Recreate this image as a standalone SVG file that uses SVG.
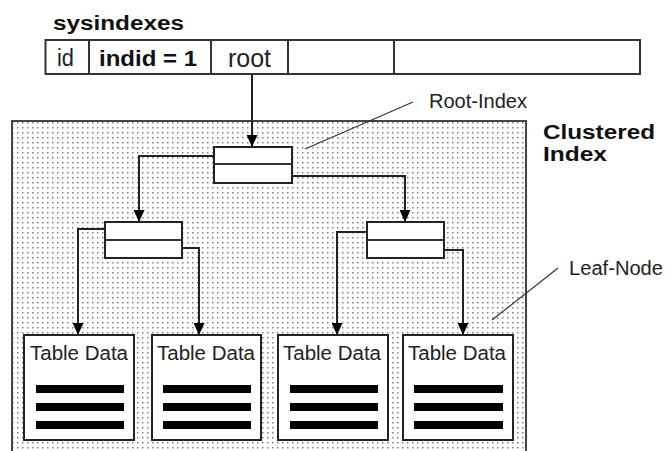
<svg xmlns="http://www.w3.org/2000/svg" width="666" height="451" viewBox="0 0 666 451">
  <defs>
    <pattern id="dots" x="0" y="0" width="5" height="5" patternUnits="userSpaceOnUse">
      <rect width="5" height="5" fill="#ffffff"/>
      <rect x="2" y="2" width="1.5" height="1.5" fill="#808080"/>
    </pattern>
    <marker id="arrow" viewBox="0 0 12 11" refX="12" refY="5.5" markerWidth="12" markerHeight="11" markerUnits="userSpaceOnUse" orient="auto">
      <path d="M0,0 L12,5.5 L0,11 Z" fill="#000"/>
    </marker>
  </defs>
  <style>
    .frame { fill: url(#dots); stroke: #444; stroke-width: 2; }
    .cell { fill: #fff; stroke: #333; stroke-width: 2; }
    .node { fill: #fff; stroke: #222; stroke-width: 2; }
    .sep { stroke: #333; stroke-width: 2; fill: none; }
    .link { fill: none; stroke: #222; stroke-width: 2; marker-end: url(#arrow); }
    .lead { fill: none; stroke: #333; stroke-width: 1.2; }
    .txt { font-family: "Liberation Sans", Arial, sans-serif; fill: #222; }
    .bold { font-family: "Liberation Sans", Arial, sans-serif; font-weight: bold; fill: #111; }
    .bar { fill: #000; }
  </style>

  <!-- sysindexes row -->
  <g id="sysindexes">
    <text class="bold" x="53" y="30" font-size="20" textLength="131" lengthAdjust="spacingAndGlyphs">sysindexes</text>
    <rect class="cell" x="45.5" y="40" width="594.5" height="34"/>
    <path class="sep" d="M89,40 V74 M211,40 V74 M288,40 V74 M394,40 V74"/>
    <text class="txt" transform="translate(57,66) scale(1,1.1)" font-size="21" textLength="17" lengthAdjust="spacingAndGlyphs">id</text>
    <text class="bold" x="99" y="66" font-size="21.5" textLength="98" lengthAdjust="spacingAndGlyphs">indid = 1</text>
    <text class="txt" transform="translate(228,67) scale(1,1.2)" font-size="22" textLength="43" lengthAdjust="spacingAndGlyphs">root</text>
  </g>

  <!-- clustered index area -->
  <g id="cluster">
    <rect class="frame" x="12" y="121" width="514" height="345"/>
    <text class="bold" x="543" y="139" font-size="20" textLength="112" lengthAdjust="spacingAndGlyphs">Clustered</text>
    <text class="bold" x="543" y="161" font-size="20" textLength="64" lengthAdjust="spacingAndGlyphs">Index</text>
  </g>

  <!-- connectors -->
  <g id="connectors">
    <path class="link" d="M252,74 V147"/>
    <path class="link" d="M214,156 H139 V222"/>
    <path class="link" d="M292,176 H405 V222"/>
    <path class="link" d="M105,229 H78 V335"/>
    <path class="link" d="M182,248 H199 V335"/>
    <path class="link" d="M367,232 H337 V335"/>
    <path class="link" d="M444,250 H463 V335"/>
    <path class="lead" d="M413,102 L305,149"/>
    <path class="lead" d="M558,268 L492,320"/>
  </g>

  <!-- index nodes -->
  <g id="root-node">
    <rect class="node" x="214" y="147" width="78" height="36"/>
    <path class="sep" d="M214,164 H292"/>
  </g>
  <g id="left-node">
    <rect class="node" x="105" y="222" width="77" height="36"/>
    <path class="sep" d="M105,240 H182"/>
  </g>
  <g id="right-node">
    <rect class="node" x="367" y="222" width="77" height="36"/>
    <path class="sep" d="M367,240 H444"/>
  </g>

  <!-- leaf pages -->
  <g id="leaf-1">
    <rect class="node" x="24" y="335" width="110" height="105"/>
    <text class="txt" x="30" y="360" font-size="19.5" textLength="98" lengthAdjust="spacingAndGlyphs">Table Data</text>
    <rect class="bar" x="36" y="385" width="88" height="8"/>
    <rect class="bar" x="36" y="403" width="88" height="8"/>
    <rect class="bar" x="36" y="421" width="88" height="8"/>
  </g>
  <g id="leaf-2">
    <rect class="node" x="152" y="335" width="109" height="105"/>
    <text class="txt" x="157" y="360" font-size="19.5" textLength="98" lengthAdjust="spacingAndGlyphs">Table Data</text>
    <rect class="bar" x="163" y="385" width="88" height="8"/>
    <rect class="bar" x="163" y="403" width="88" height="8"/>
    <rect class="bar" x="163" y="421" width="88" height="8"/>
  </g>
  <g id="leaf-3">
    <rect class="node" x="278" y="335" width="110" height="105"/>
    <text class="txt" x="283" y="360" font-size="19.5" textLength="98" lengthAdjust="spacingAndGlyphs">Table Data</text>
    <rect class="bar" x="290" y="385" width="88" height="8"/>
    <rect class="bar" x="290" y="403" width="88" height="8"/>
    <rect class="bar" x="290" y="421" width="88" height="8"/>
  </g>
  <g id="leaf-4">
    <rect class="node" x="403" y="335" width="110" height="105"/>
    <text class="txt" x="408" y="360" font-size="19.5" textLength="98" lengthAdjust="spacingAndGlyphs">Table Data</text>
    <rect class="bar" x="414" y="385" width="89" height="8"/>
    <rect class="bar" x="414" y="403" width="89" height="8"/>
    <rect class="bar" x="414" y="421" width="89" height="8"/>
  </g>

  <!-- callout labels -->
  <g id="labels">
    <text class="txt" x="429" y="108" font-size="20" textLength="98" lengthAdjust="spacingAndGlyphs">Root-Index</text>
    <text class="txt" x="569" y="275" font-size="20" textLength="94" lengthAdjust="spacingAndGlyphs">Leaf-Node</text>
  </g>
</svg>
